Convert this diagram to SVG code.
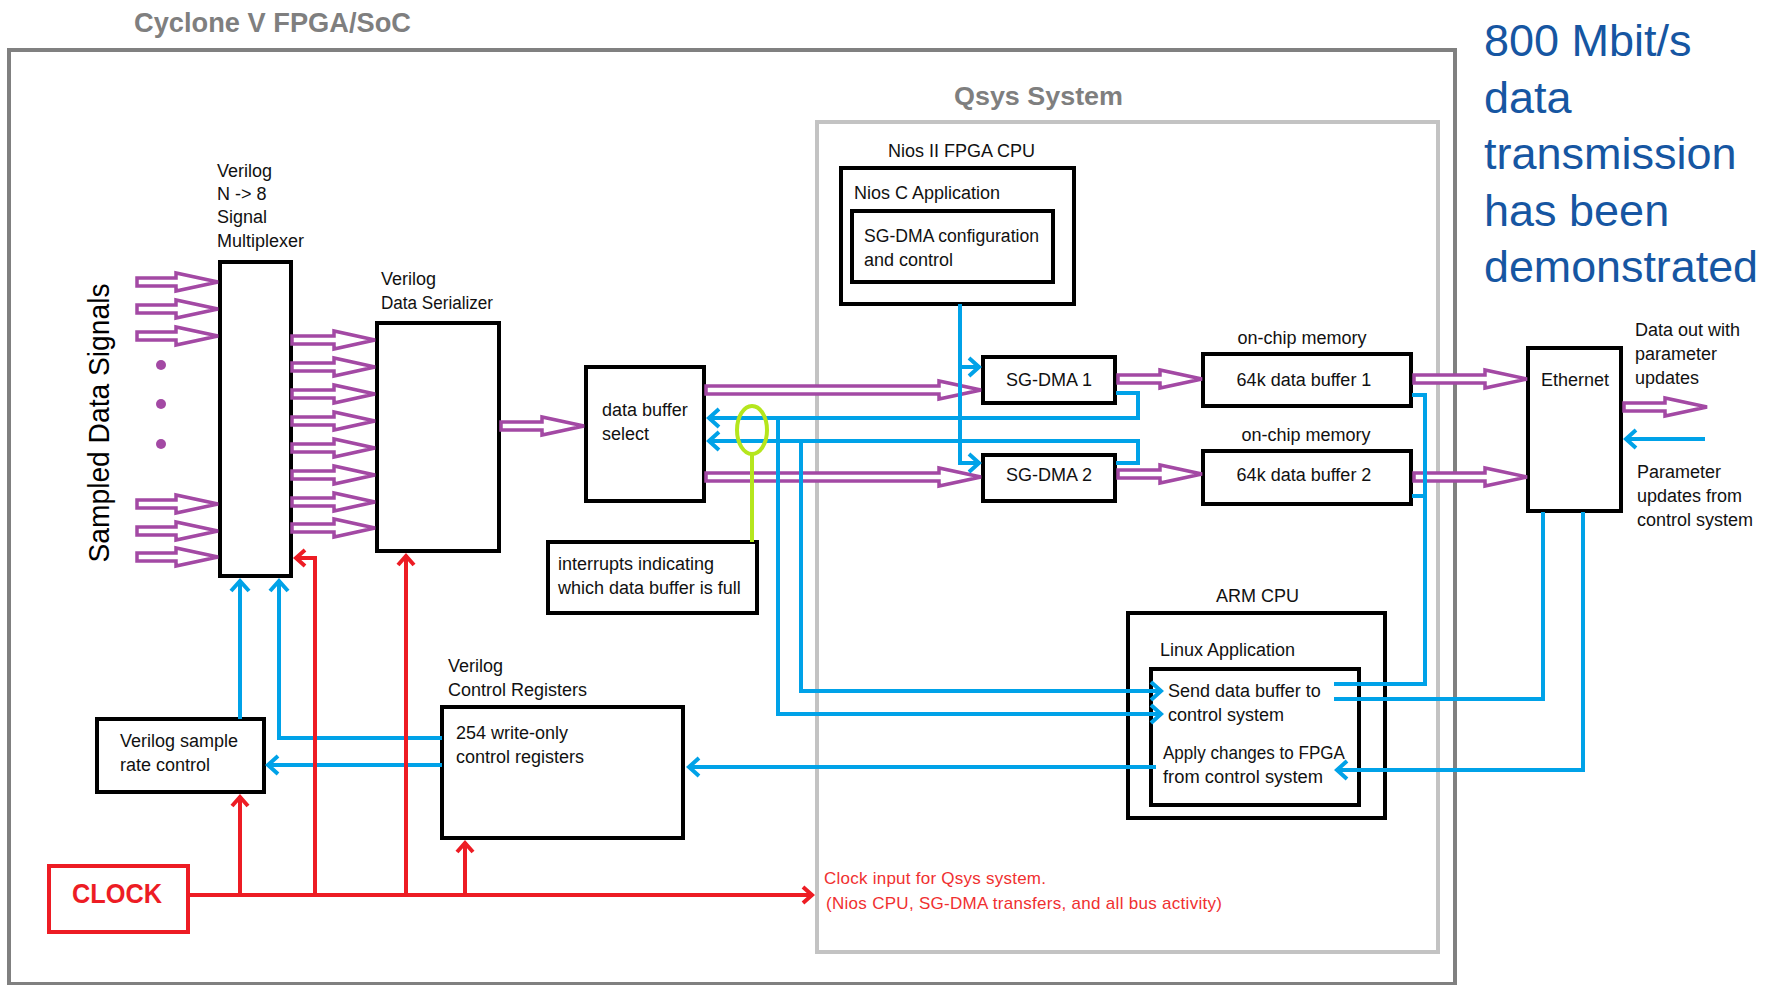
<svg xmlns="http://www.w3.org/2000/svg" width="1770" height="985" viewBox="0 0 1770 985">
<defs>
<style>
.box{fill:none;stroke:#000;stroke-width:4}
.t{font-family:"Liberation Sans",Arial,sans-serif;font-size:18px;fill:#111}
.pa{fill:#fff;stroke:#a349a4;stroke-width:3.5;stroke-linejoin:miter}
.bl{fill:none;stroke:#00a2e8;stroke-width:4}
.rd{fill:none;stroke:#ed1c24;stroke-width:4}
</style>
<marker id="ab" markerUnits="userSpaceOnUse" viewBox="-14 -12 18 24" markerWidth="18" markerHeight="24" refX="1" refY="0" orient="auto">
<polyline points="-10,-9 0,0 -10,9" fill="none" stroke="#00a2e8" stroke-width="4"/>
</marker>
<marker id="ar" markerUnits="userSpaceOnUse" viewBox="-14 -12 18 24" markerWidth="18" markerHeight="24" refX="1" refY="0" orient="auto">
<polyline points="-9,-8 0,0 -9,8" fill="none" stroke="#ed1c24" stroke-width="4"/>
</marker>
</defs>
<rect width="1770" height="985" fill="#fff"/>

<!-- frames -->
<g id="fpga-frame">
<rect x="9" y="50" width="1446" height="934" fill="none" stroke="#808080" stroke-width="4"/>
<text x="134" y="32" font-family="Liberation Sans,Arial,sans-serif" font-size="28" font-weight="bold" fill="#7f7f7f" textLength="277" lengthAdjust="spacingAndGlyphs">Cyclone V FPGA/SoC</text>
</g>
<g id="qsys-frame">
<rect x="817" y="122" width="621" height="830" fill="none" stroke="#c3c3c3" stroke-width="4"/>
<text x="954" y="105" font-family="Liberation Sans,Arial,sans-serif" font-size="26" font-weight="bold" fill="#7f7f7f" textLength="169" lengthAdjust="spacingAndGlyphs">Qsys System</text>
</g>

<g id="note" font-family="Liberation Sans,Arial,sans-serif" font-size="45" fill="#1656a2">
<text x="1484" y="56">800 Mbit/s</text>
<text x="1484" y="113">data</text>
<text x="1484" y="169">transmission</text>
<text x="1484" y="226">has been</text>
<text x="1484" y="282" textLength="274" lengthAdjust="spacingAndGlyphs">demonstrated</text>
</g>

<g id="sampled-signals">
<text x="109" y="423" transform="rotate(-90 109 423)" text-anchor="middle" font-family="Liberation Sans,Arial,sans-serif" font-size="30" fill="#000" textLength="279" lengthAdjust="spacingAndGlyphs">Sampled Data Signals</text>
<circle cx="161" cy="365" r="5" fill="#a349a4"/>
<circle cx="161" cy="404" r="5" fill="#a349a4"/>
<circle cx="161" cy="444" r="5" fill="#a349a4"/>
</g>

<g id="mux">
<rect class="box" x="220" y="262" width="71" height="314"/>
<text class="t" x="217" y="177">Verilog</text>
<text class="t" x="217" y="200">N -&gt; 8</text>
<text class="t" x="217" y="223">Signal</text>
<text class="t" x="217" y="247">Multiplexer</text>
</g>

<g id="serializer">
<rect class="box" x="377" y="323" width="122" height="228"/>
<text class="t" x="381" y="285">Verilog</text>
<text class="t" x="381" y="309" textLength="112" lengthAdjust="spacingAndGlyphs">Data Serializer</text>
</g>

<g id="buffer-select">
<rect class="box" x="586" y="367" width="118" height="134"/>
<text class="t" x="602" y="416">data buffer</text>
<text class="t" x="602" y="440">select</text>
</g>

<g id="interrupts">
<rect class="box" x="548" y="542" width="209" height="71"/>
<text class="t" x="558" y="570">interrupts indicating</text>
<text class="t" x="558" y="594">which data buffer is full</text>
</g>

<g id="nios">
<text class="t" x="888" y="157">Nios II FPGA CPU</text>
<rect class="box" x="841" y="168" width="233" height="136"/>
<text class="t" x="854" y="199">Nios C Application</text>
<rect class="box" x="852" y="211" width="201" height="71" stroke-width="3"/>
<text class="t" x="864" y="242" textLength="175" lengthAdjust="spacingAndGlyphs">SG-DMA configuration</text>
<text class="t" x="864" y="266">and control</text>
</g>

<g id="sgdma1">
<rect class="box" x="983" y="357" width="132" height="46"/>
<text class="t" x="1049" y="386" text-anchor="middle">SG-DMA 1</text>
</g>
<g id="sgdma2">
<rect class="box" x="983" y="455" width="132" height="46"/>
<text class="t" x="1049" y="481" text-anchor="middle">SG-DMA 2</text>
</g>

<g id="buffer1">
<text class="t" x="1302" y="344" text-anchor="middle">on-chip memory</text>
<rect class="box" x="1203" y="354" width="208" height="52"/>
<text class="t" x="1304" y="386" text-anchor="middle">64k data buffer 1</text>
</g>
<g id="buffer2">
<text class="t" x="1306" y="441" text-anchor="middle">on-chip memory</text>
<rect class="box" x="1203" y="451" width="208" height="53"/>
<text class="t" x="1304" y="481" text-anchor="middle">64k data buffer 2</text>
</g>

<g id="ethernet">
<rect class="box" x="1528" y="348" width="93" height="163"/>
<text class="t" x="1541" y="386">Ethernet</text>
</g>

<g id="ext-labels">
<text class="t" x="1635" y="336">Data out with</text>
<text class="t" x="1635" y="360">parameter</text>
<text class="t" x="1635" y="384">updates</text>
<text class="t" x="1637" y="478">Parameter</text>
<text class="t" x="1637" y="502">updates from</text>
<text class="t" x="1637" y="526">control system</text>
</g>

<g id="arm">
<text class="t" x="1216" y="602">ARM CPU</text>
<rect class="box" x="1128" y="613" width="257" height="205"/>
<text class="t" x="1160" y="656">Linux Application</text>
<rect class="box" x="1151" y="669" width="208" height="136" stroke-width="2.5"/>
<text class="t" x="1168" y="697">Send data buffer to</text>
<text class="t" x="1168" y="721">control system</text>
<text class="t" x="1163" y="759" textLength="182" lengthAdjust="spacingAndGlyphs">Apply changes to FPGA</text>
<text class="t" x="1163" y="783" textLength="160" lengthAdjust="spacingAndGlyphs">from control system</text>
</g>

<g id="sample-rate">
<rect class="box" x="97" y="719" width="167" height="73"/>
<text class="t" x="120" y="747">Verilog sample</text>
<text class="t" x="120" y="771">rate control</text>
</g>

<g id="control-registers">
<text class="t" x="448" y="672">Verilog</text>
<text class="t" x="448" y="696">Control Registers</text>
<rect class="box" x="442" y="707" width="241" height="131"/>
<text class="t" x="456" y="739">254 write-only</text>
<text class="t" x="456" y="763">control registers</text>
</g>

<g id="clock">
<rect x="49" y="866" width="139" height="66" fill="none" stroke="#ed1c24" stroke-width="4"/>
<text x="72" y="903" font-family="Liberation Sans,Arial,sans-serif" font-size="27" font-weight="bold" fill="#ed1c24" textLength="90" lengthAdjust="spacingAndGlyphs">CLOCK</text>
</g>

<g id="clock-note" font-family="Liberation Sans,Arial,sans-serif" font-size="17" fill="#f03030">
<text x="824" y="884" textLength="222" lengthAdjust="spacing">Clock input for Qsys system.</text>
<text x="826" y="909" textLength="396" lengthAdjust="spacing">(Nios  CPU, SG-DMA transfers, and all bus activity)</text>
</g>

<g id="connectors">
<g id="data-arrows">
<path class="pa" d="M137,278 H176 V273 L218,282 L176,291 V286 H137 Z"/>
<path class="pa" d="M137,305 H176 V300 L218,309 L176,318 V313 H137 Z"/>
<path class="pa" d="M137,332 H176 V327 L218,336 L176,345 V340 H137 Z"/>
<path class="pa" d="M137,500 H176 V495 L218,504 L176,513 V508 H137 Z"/>
<path class="pa" d="M137,527 H176 V522 L218,531 L176,540 V535 H137 Z"/>
<path class="pa" d="M137,553 H176 V548 L218,557 L176,566 V561 H137 Z"/>
<path class="pa" d="M292,336 H334 V331 L375,340 L334,349 V344 H292 Z"/>
<path class="pa" d="M292,363 H334 V358 L375,367 L334,376 V371 H292 Z"/>
<path class="pa" d="M292,390 H334 V385 L375,394 L334,403 V398 H292 Z"/>
<path class="pa" d="M292,417 H334 V412 L375,421 L334,430 V425 H292 Z"/>
<path class="pa" d="M292,444 H334 V439 L375,448 L334,457 V452 H292 Z"/>
<path class="pa" d="M292,471 H334 V466 L375,475 L334,484 V479 H292 Z"/>
<path class="pa" d="M292,498 H334 V493 L375,502 L334,511 V506 H292 Z"/>
<path class="pa" d="M292,524 H334 V519 L375,528 L334,537 V532 H292 Z"/>
<path class="pa" d="M501,422 H542 V417 L584,426 L542,435 V430 H501 Z"/>
<path class="pa" d="M706,386 H939 V381 L981,390 L939,399 V394 H706 Z"/>
<path class="pa" d="M706,473 H939 V468 L981,477 L939,486 V481 H706 Z"/>
<path class="pa" d="M1118,375 H1160 V370 L1202,379 L1160,388 V383 H1118 Z"/>
<path class="pa" d="M1118,470 H1160 V465 L1202,474 L1160,483 V478 H1118 Z"/>
<path class="pa" d="M1414,375 H1485 V370 L1527,379 L1485,388 V383 H1414 Z"/>
<path class="pa" d="M1414,473 H1485 V468 L1527,477 L1485,486 V481 H1414 Z"/>
<path class="pa" d="M1624,403 H1665 V398 L1707,407 L1665,416 V411 H1624 Z"/>
</g>
<g id="control-lines">
<path class="bl" d="M960,304 V463 H980" marker-end="url(#ab)"/>
<path class="bl" d="M960,367 H980" marker-end="url(#ab)"/>
<path class="bl" d="M1116,393 H1138 V418 H708" marker-end="url(#ab)"/>
<path class="bl" d="M1116,463 H1138 V441 H708" marker-end="url(#ab)"/>
<path class="bl" d="M778,418 V714 H1162" marker-end="url(#ab)"/>
<path class="bl" d="M801,441 V691 H1162" marker-end="url(#ab)"/>
<path class="bl" d="M1334,684 H1425 V395 H1412"/>
<path class="bl" d="M1425,496 H1412"/>
<path class="bl" d="M1334,699 H1543 V512"/>
<path class="bl" d="M1583,512 V770 H1336" marker-end="url(#ab)"/>
<path class="bl" d="M1156,767 H688" marker-end="url(#ab)"/>
<path class="bl" d="M442,738 H279 V580" marker-end="url(#ab)"/>
<path class="bl" d="M442,765 H267" marker-end="url(#ab)"/>
<path class="bl" d="M240,719 V580" marker-end="url(#ab)"/>
<path class="bl" d="M1705,439 H1625" marker-end="url(#ab)"/>
</g>
<g id="clock-lines">
<path class="rd" d="M188,895 H813" marker-end="url(#ar)"/>
<path class="rd" d="M240,895 V796" marker-end="url(#ar)"/>
<path class="rd" d="M315,895 V558 H295" marker-end="url(#ar)"/>
<path class="rd" d="M406,895 V555" marker-end="url(#ar)"/>
<path class="rd" d="M465,895 V842" marker-end="url(#ar)"/>
</g>
<g id="interrupt-link">
<ellipse cx="752" cy="430" rx="15" ry="24" fill="none" stroke="#b5e61d" stroke-width="4"/>
<path d="M752,454 V542" fill="none" stroke="#b5e61d" stroke-width="4"/>
</g>
</g>
</svg>
